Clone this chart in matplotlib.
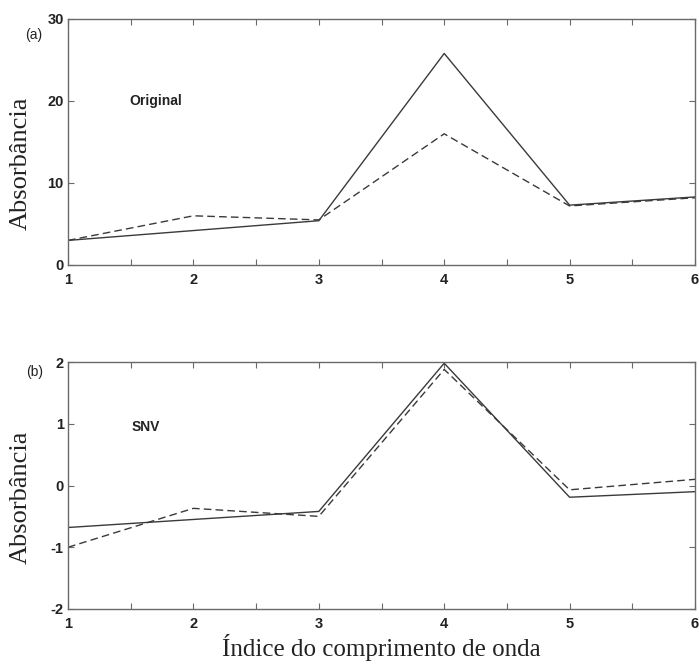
import numpy as np
import matplotlib
matplotlib.use("Agg")
import matplotlib.pyplot as plt

plt.rcParams["axes.unicode_minus"] = False

# wavelength index
x = [1, 2, 3, 4, 5, 6]

# (a) original spectra
orig_solid = [3.0, 4.2, 5.4, 25.8, 7.3, 8.3]
orig_dashed = [3.0, 6.0, 5.5, 16.0, 7.2, 8.2]

# (b) after SNV
snv_solid = [-0.68, -0.55, -0.42, 1.98, -0.19, -0.10]
snv_dashed = [-1.00, -0.37, -0.50, 1.88, -0.07, 0.10]

x_ticks = [1, 1.5, 2, 2.5, 3, 3.5, 4, 4.5, 5, 5.5, 6]
x_labels = ["1", "", "2", "", "3", "", "4", "", "5", "", "6"]

line_col = "#3a3a3a"
frame_col = "#6a6a6a"
text_col = "#222222"

fig = plt.figure(figsize=(6.99, 6.69), dpi=100)
ax1 = fig.add_axes([68 / 699, 1 - 265 / 669, 627 / 699, 246 / 669])
ax2 = fig.add_axes([68 / 699, 1 - 609 / 669, 627 / 699, 247 / 669])


def style(ax, label_y):
    ax.set_xlim(1, 6)
    ax.set_xticks(x_ticks)
    ax.set_xticklabels(x_labels)
    ax.tick_params(direction="in", top=True, right=True, length=4,
                   width=0.8, color=frame_col, labelsize=10.5,
                   labelcolor=text_col)
    ax.tick_params(axis="x", pad=6)
    ax.tick_params(axis="y", pad=3)
    for lab in ax.get_xticklabels() + ax.get_yticklabels():
        lab.set_fontweight("bold")
        lab.set_fontfamily("Liberation Sans")
    for sp in ax.spines.values():
        sp.set_color(frame_col)
        sp.set_linewidth(1.0)
    ax.set_ylabel("Absorbância", fontfamily="Liberation Serif", fontsize=19,
                  color=text_col)
    ax.yaxis.set_label_coords(-0.058, label_y)


ax1.plot(x, orig_solid, "-", color=line_col, lw=1.0)
ax1.plot(x, orig_dashed, "--", color=line_col, lw=1.0, dashes=(5.5, 3))
ax1.set_ylim(0, 30)
ax1.set_yticks([0, 10, 20, 30])
style(ax1, 0.415)
ax1.text(1.49, 20, "Original", fontsize=10, fontweight="bold",
         fontfamily="Liberation Sans", va="center", color=text_col)
ax1.text(-0.041, 0.935, "(a)", transform=ax1.transAxes, fontsize=10,
         fontfamily="Liberation Sans", ha="right", va="center",
         color=text_col)

ax2.plot(x, snv_solid, "-", color=line_col, lw=1.0)
ax2.plot(x, snv_dashed, "--", color=line_col, lw=1.0, dashes=(5.5, 3))
ax2.set_ylim(-2, 2)
ax2.set_yticks([-2, -1, 0, 1, 2])
style(ax2, 0.453)
ax2.text(1.51, 0.95, "SNV", fontsize=10, fontweight="bold",
         fontfamily="Liberation Sans", va="center", color=text_col)
ax2.text(-0.04, 0.96, "(b)", transform=ax2.transAxes, fontsize=10,
         fontfamily="Liberation Sans", ha="right", va="center",
         color=text_col)
ax2.set_xlabel("Índice do comprimento de onda", fontfamily="Liberation Serif",
               fontsize=18, labelpad=2, color=text_col)

fig.savefig("out.png", dpi=100)
